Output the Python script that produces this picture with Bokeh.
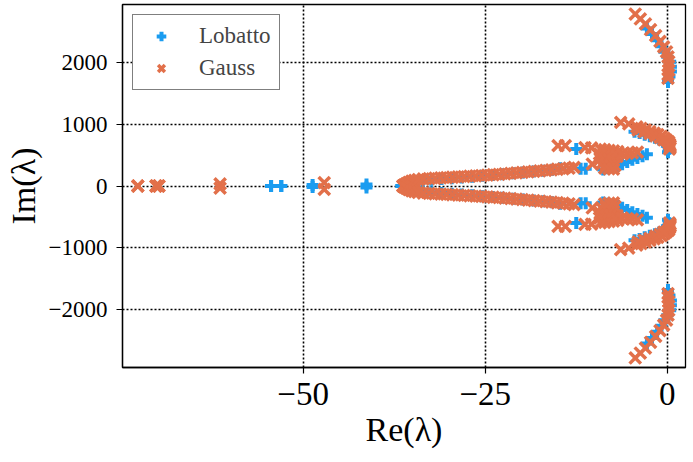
from bokeh.plotting import figure
from bokeh.models import ColumnDataSource, Range1d, FixedTicker, Legend, LegendItem
from bokeh.embed import file_html
from bokeh.resources import INLINE

# Eigenvalue spectra, upper half-plane (Im >= 0); conjugates are added below.
# Lobatto quadrature
lobatto_re = [
    -54.4, -53.0, -48.7, -41.3,
    -36.5, -36.0, -35.4, -34.6, -33.6, -32.4, -31.0, -29.6, -28.2, -26.8,
    -25.4, -24.0, -22.6, -21.2, -19.8, -18.4, -17.0, -15.8, -14.7,
    -11.9, -11.2, -12.5,
    -8.8, -8.2, -7.6, -6.9, -6.2, -5.5, -4.8, -4.1, -3.4, -2.8,
    -4.5, -3.8, -3.1, -2.4, -1.7, -1.1, -0.6, -0.2, 0.1, 0.2, 0.1,
    -2.8, -2.1, -1.4, -0.8, -0.4, 0.0, 0.4, 0.5, 0.5, 0.3, 0.1,
]
lobatto_im = [
    0, 0, 15, 25,
    0, 30, 55, 75, 90, 103, 115, 127, 140, 152,
    165, 178, 192, 206, 220, 234, 249, 263, 290,
    280, 280, 600,
    270, 290, 305, 320, 355, 390, 425, 455, 485, 515,
    880, 860, 835, 810, 785, 755, 720, 690, 650, 600, 550,
    2560, 2470, 2370, 2270, 2180, 2100, 2020, 1940, 1860, 1780, 1690,
]

# Gauss quadrature
gauss_re = [
    -72.7, -70.2, -69.8, -61.4, -47.1,
    -36.3, -36.1, -35.8, -35.5, -35.1, -34.7, -34.2, -33.5, -32.7, -31.9,
    -31.1, -30.3, -29.5, -28.7, -27.9, -27.1, -26.3, -25.5, -24.7, -23.9,
    -23.1, -22.3, -21.5, -20.7, -19.9, -19.1, -18.3, -17.5, -16.7, -15.9,
    -15.1, -14.3, -13.5, -12.8, -10.3,
    -15.0, -14.0, -11.3, -10.4,
    -9.2, -8.6, -8.0, -7.4, -6.8,
    -9.3, -8.7, -8.1, -7.5, -6.9,
    -9.2, -8.6, -8.0, -7.4,
    -9.0, -8.4, -7.8, -7.2,
    -8.6, -8.0, -7.4,
    -6.2, -5.5, -4.8, -4.1,
    -6.4, -5.3, -4.2, -3.6, -3.0, -2.4, -1.8, -1.3, -0.8, -0.4, -0.1,
    0.2, 0.3, 0.4, 0.4, 0.3,
    -4.0, -3.2, -2.4, -1.6, -1.0, -0.5,
    -4.4, -3.7, -3.0, -2.3, -1.6, -1.0, -0.5, -0.1, 0.1, 0.2, 0.2, 0.2,
    0.1, 0.1,
]
gauss_im = [
    0, 0, 0, 35, 55,
    0, 20, 40, 60, 78, 92, 105, 114, 120, 126,
    131, 137, 142, 148, 153, 159, 164, 170, 176, 183,
    190, 197, 205, 213, 221, 229, 237, 246, 254, 263,
    272, 280, 289, 302, 357,
    655, 655, 625, 620,
    600, 590, 580, 570, 560,
    520, 510, 500, 490, 480,
    440, 430, 420, 410,
    360, 350, 340, 330,
    290, 280, 275,
    520, 530, 540, 550,
    1035, 1010, 960, 935, 910, 885, 860, 835, 805, 775, 745,
    715, 685, 655, 625, 600,
    910, 880, 850, 815, 785, 750,
    2795, 2715, 2635, 2540, 2445, 2350, 2260, 2180, 2100, 2020, 1950, 1880,
    1810, 1750,
]

x_ticks = [-50, -25, 0]
x_tick_labels = ["\u221250", "\u221225", "0"]
y_ticks = [-2000, -1000, 0, 1000, 2000]
y_tick_labels = ["\u22122000", "\u22121000", "0", "1000", "2000"]

LOBATTO_COLOR = "#1a9cf0"
GAUSS_COLOR = "#e2704a"
SERIF = "Liberation Serif"


def with_conjugates(re, im):
    return dict(re=list(re) + list(re), im=list(im) + [-v for v in im])


src_lobatto = ColumnDataSource(with_conjugates(lobatto_re, lobatto_im))
src_gauss = ColumnDataSource(with_conjugates(gauss_re, gauss_im))

p = figure(
    width=693, height=462,
    x_range=Range1d(-74.8, 2.5), y_range=Range1d(-2950, 2950),
    output_backend="svg", toolbar_location=None,
    min_border_left=122, min_border_right=8,
    min_border_top=4, min_border_bottom=95,
)
p.background_fill_color = "white"
p.border_fill_color = "white"
p.outline_line_color = "black"
p.outline_line_width = 1.3

r_lob = p.scatter("re", "im", source=src_lobatto, marker="cross", size=12,
                  line_color=LOBATTO_COLOR, line_width=4)
r_gau = p.scatter("re", "im", source=src_gauss, marker="x", size=16,
                  line_color=GAUSS_COLOR, line_width=3.5)

# axes
p.xaxis.ticker = FixedTicker(ticks=x_ticks)
p.yaxis.ticker = FixedTicker(ticks=y_ticks)
p.xaxis.major_label_overrides = dict(zip(x_ticks, x_tick_labels))
p.yaxis.major_label_overrides = dict(zip(y_ticks, y_tick_labels))
for ax in (p.xaxis[0], p.yaxis[0]):
    ax.axis_line_color = "black"
    ax.axis_line_width = 1.3
    ax.major_tick_line_color = "black"
    ax.major_tick_line_width = 1.2
    ax.major_tick_out = 6
    ax.major_tick_in = 0
    ax.minor_tick_line_color = None
    ax.major_label_text_font = SERIF
    ax.major_label_text_color = "black"
    ax.axis_label_text_font = SERIF
    ax.axis_label_text_font_style = "normal"
    ax.axis_label_text_font_size = "34px"
    ax.axis_label_text_color = "black"

p.xaxis.major_label_text_font_size = "33px"
p.xaxis.major_label_standoff = 9
p.xaxis.axis_label = "Re(\u03bb)"
p.xaxis.axis_label_standoff = 3

p.yaxis.major_label_text_font_size = "23px"
p.yaxis.major_label_standoff = 9
p.yaxis.axis_label = "Im(\u03bb)"
p.yaxis.axis_label_standoff = 4

# dotted grid
for g in (p.xgrid[0], p.ygrid[0]):
    g.grid_line_color = "black"
    g.grid_line_width = 1.6
    g.grid_line_dash = "2 2"
    g.grid_line_alpha = 1.0

legend = Legend(
    items=[LegendItem(label="Lobatto", renderers=[r_lob]),
           LegendItem(label="Gauss", renderers=[r_gau])],
    location="top_left", margin=10, padding=8, spacing=6,
    glyph_width=40, glyph_height=24, label_height=24, label_standoff=18,
    label_text_font=SERIF, label_text_font_size="23px",
    border_line_color="black", border_line_width=1.2,
    background_fill_color="white", background_fill_alpha=1.0,
)
p.add_layout(legend)

open("out.html", "w").write(file_html(p, INLINE))
